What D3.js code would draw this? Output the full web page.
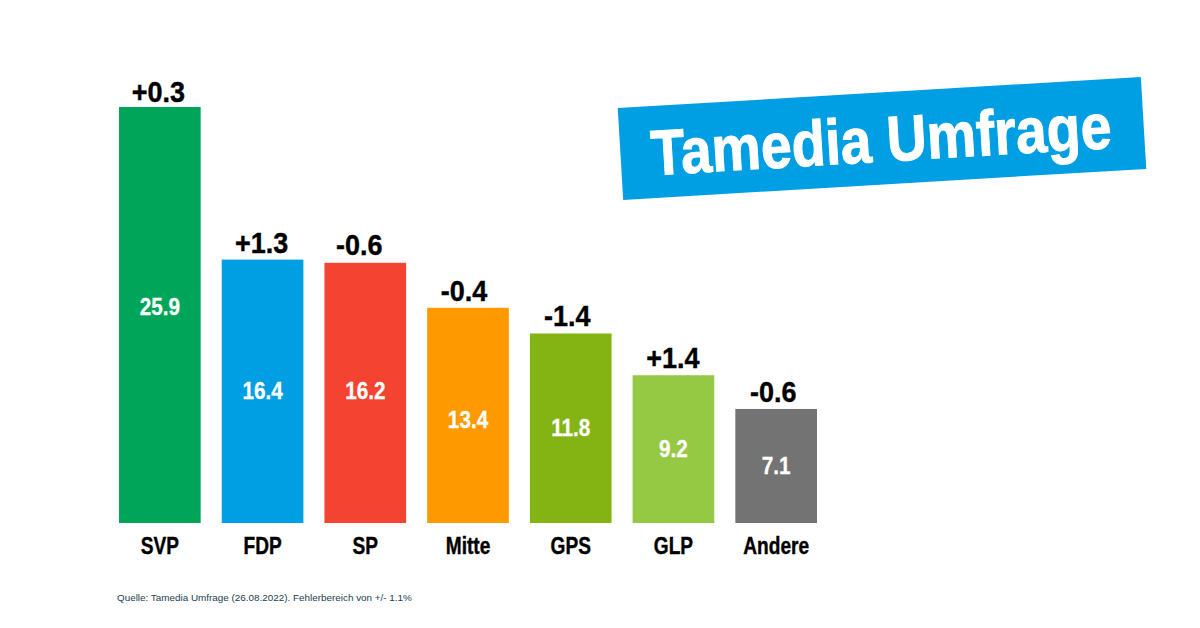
<!DOCTYPE html>
<html>
<head>
<meta charset="utf-8">
<script src="https://cdn.jsdelivr.net/npm/d3@7/dist/d3.min.js"></script>
<style>
  html, body { margin: 0; padding: 0; background: #fff; }
  text { font-family: "Liberation Sans", sans-serif; font-weight: bold; }
  .domain { display: none; }
</style>
</head>
<body>
<svg id="chart" width="1200" height="628"></svg>
<script>
var parties = ["SVP", "FDP", "SP", "Mitte", "GPS", "GLP", "Andere"];
var shares  = [25.9, 16.4, 16.2, 13.4, 11.8, 9.2, 7.1];
var changes = ["+0.3", "+1.3", "-0.6", "-0.4", "-1.4", "+1.4", "-0.6"];
var colors  = ["#00a55a", "#009ee3", "#f44331", "#ff9900", "#84b414", "#95c944", "#737373"];

var svg = d3.select("#chart");

var x = d3.scaleBand()
    .domain(parties)
    .range([119, 817])
    .paddingInner(0.205);

var y = d3.scaleLinear()
    .domain([0, 25.9])
    .range([523, 107]);

var barMid = function(d) { return x(d) + x.bandwidth() / 2; };

// bars
svg.selectAll("rect.bar")
    .data(parties)
    .enter().append("rect")
    .attr("class", "bar")
    .attr("x", function(d) { return x(d); })
    .attr("width", x.bandwidth())
    .attr("y", function(d, i) { return y(shares[i]); })
    .attr("height", function(d, i) { return y(0) - y(shares[i]); })
    .attr("fill", function(d, i) { return colors[i]; });

// the share labels sit mid bar, some of them were moved by hand in the original
var shareShift = { SVP: -8, SP: -2, Mitte: 5 };

svg.selectAll("text.share")
    .data(parties)
    .enter().append("text")
    .attr("class", "share")
    .attr("transform", function(d, i) {
        var py = (y(shares[i]) + y(0)) / 2 + (shareShift[d] || 0) + 8;
        return "translate(" + barMid(d) + "," + py + ") scale(0.9,1)";
    })
    .attr("text-anchor", "middle")
    .attr("font-size", 23)
    .attr("fill", "#fff")
    .attr("stroke", "#fff")
    .attr("stroke-width", 0.3)
    .text(function(d, i) { return shares[i].toFixed(1); });

// change against last poll, these are not quite centred in the original
var changeShiftX = { SVP: -1.5, FDP: -1, SP: -6, Mitte: -4, GPS: -3.5, GLP: -0.5, Andere: -3 };
var changeGap = { SVP: 5, SP: 8 };

svg.selectAll("text.change")
    .data(parties)
    .enter().append("text")
    .attr("class", "change")
    .attr("transform", function(d, i) {
        var gap = changeGap[d] === undefined ? 7 : changeGap[d];
        return "translate(" + (barMid(d) + changeShiftX[d]) + "," + (y(shares[i]) - gap) + ") scale(0.93,1)";
    })
    .attr("text-anchor", "middle")
    .attr("font-size", 29)
    .attr("fill", "#000")
    .attr("stroke", "#000")
    .attr("stroke-width", 0.4)
    .text(function(d, i) { return changes[i]; });

// party names
var axis = svg.append("g")
    .attr("transform", "translate(0,523)")
    .call(d3.axisBottom(x).tickSize(0).tickPadding(15));
axis.selectAll("text")
    .attr("transform", "scale(0.83,1)")
    .attr("font-size", 23)
    .attr("fill", "#000")
    .attr("stroke", "#000")
    .attr("stroke-width", 0.4)
    .style("font-family", "'Liberation Sans', sans-serif")
    .style("font-weight", "bold");

// tilted title band
var band = svg.append("g")
    .attr("transform", "translate(882,138.5) rotate(-3.4)");
band.append("rect")
    .attr("x", -262)
    .attr("y", -46)
    .attr("width", 524)
    .attr("height", 92)
    .attr("fill", "#009ee3");
band.append("text")
    .attr("transform", "translate(-1,23) scale(0.866,1)")
    .attr("text-anchor", "middle")
    .attr("font-size", 64)
    .attr("fill", "#fff")
    .attr("stroke", "#fff")
    .attr("stroke-width", 1)
    .text("Tamedia Umfrage");

svg.append("text")
    .attr("x", 117)
    .attr("y", 601)
    .attr("font-size", 9.9)
    .attr("fill", "#1d3d4f")
    .style("font-weight", "normal")
    .text("Quelle: Tamedia Umfrage (26.08.2022). Fehlerbereich von +/- 1.1%");
</script>
</body>
</html>
